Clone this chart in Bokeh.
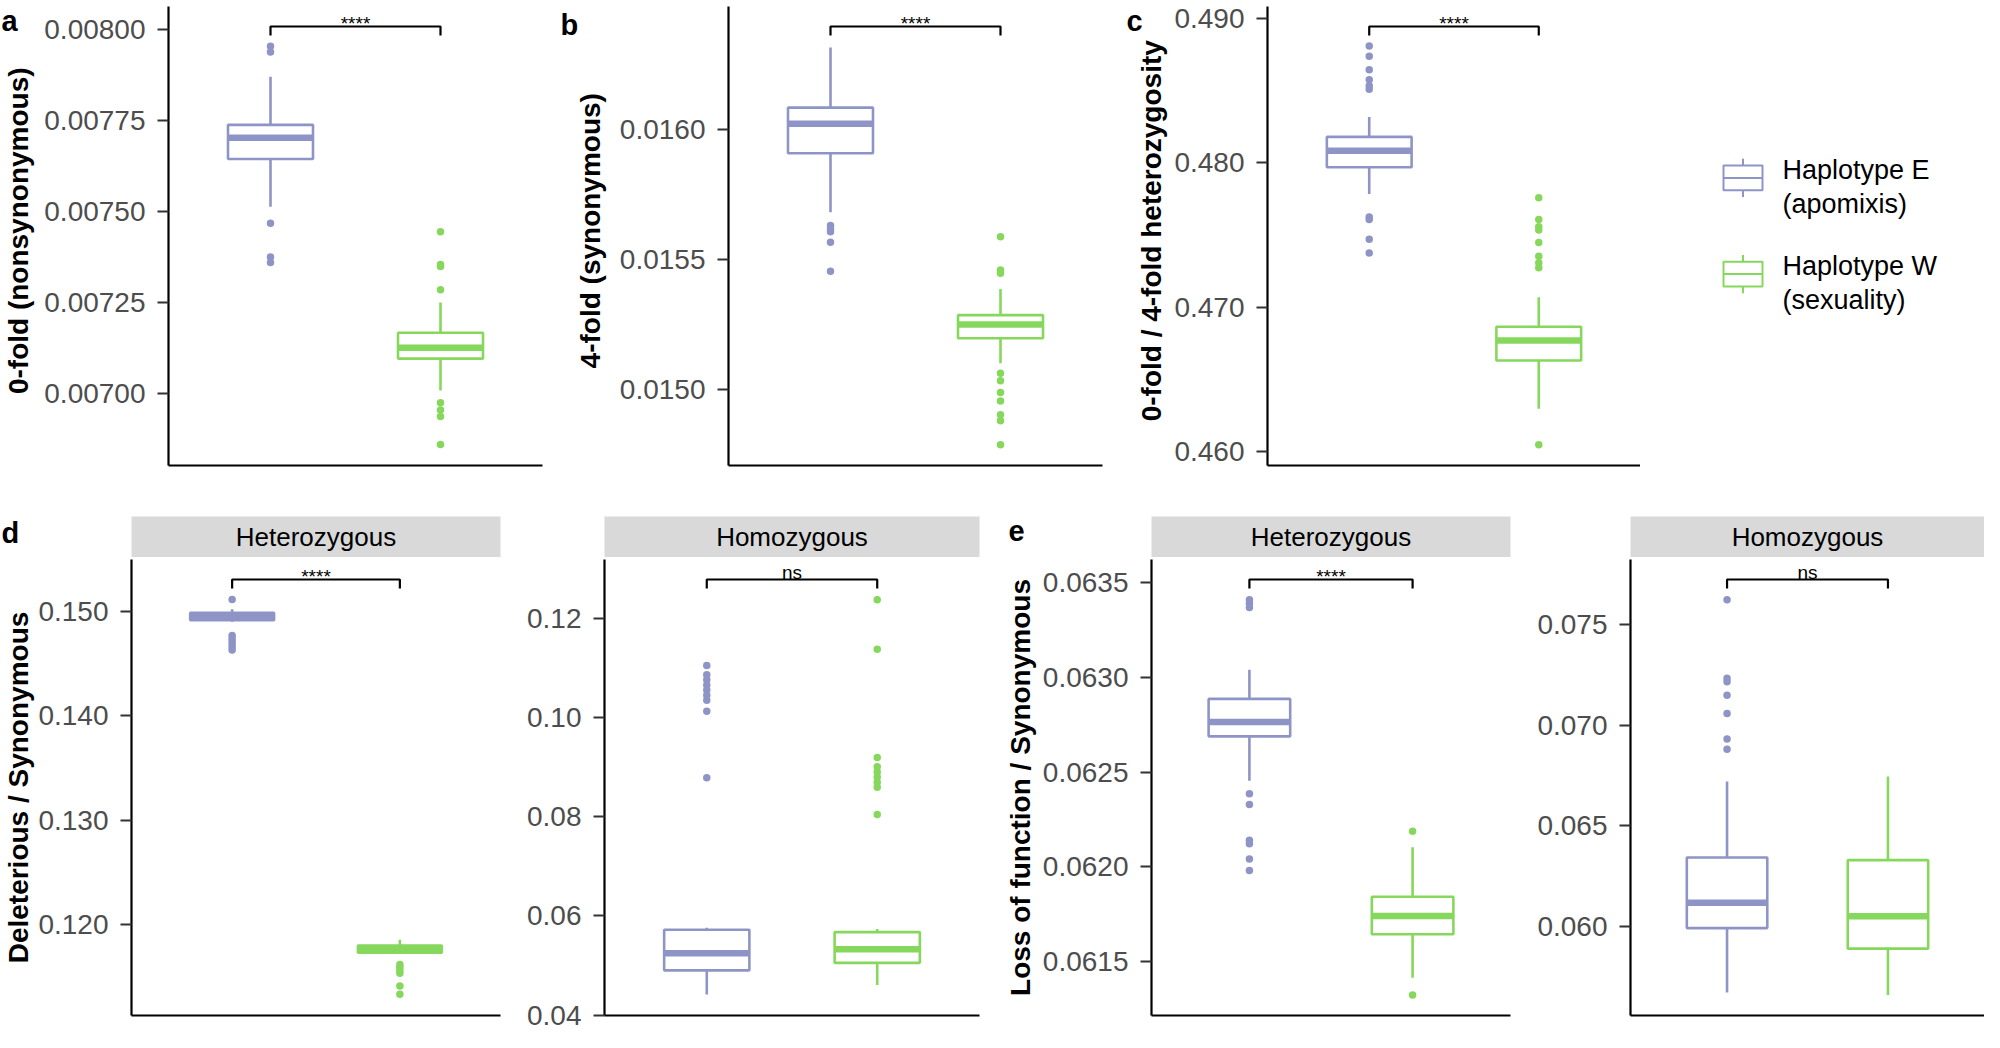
import math
from bokeh.plotting import figure
from bokeh.models import Range1d, FixedTicker, PrintfTickFormatter
from bokeh.layouts import row, column
from bokeh.core.properties import value
from bokeh.embed import file_html
from bokeh.resources import INLINE

FONT = "Liberation Sans"

groups = ["Haplotype E", "Haplotype W"]
group_notes = ["(apomixis)", "(sexuality)"]
colors = ["#8E95C6", "#86D85C"]
facets = ["Heterozygous", "Homozygous"]

# box stats per group: lower whisker, Q1, median, Q3, upper whisker
a_box = [[0.0075126, 0.0076439, 0.0077023, 0.0077374, 0.0078696],
         [0.0070090, 0.0070962, 0.0071259, 0.0071673, 0.0072500]]
a_out = [[0.0079532, 0.0079371, 0.0074676, 0.0073750, 0.0073597],
         [0.0074442, 0.0073543, 0.0073489, 0.0072851, 0.0069748, 0.0069550, 0.0069371, 0.0068606]]
a_ticks = [0.00700, 0.00725, 0.00750, 0.00775, 0.00800]

b_box = [[0.015681, 0.015907, 0.016020, 0.016082, 0.016313],
         [0.015101, 0.015197, 0.015250, 0.015286, 0.015386]]
b_out = [[0.015630, 0.015615, 0.015606, 0.015566, 0.015454],
         [0.015587, 0.015459, 0.015447, 0.015063, 0.015034, 0.014989, 0.014956, 0.014904, 0.014881, 0.014789]]
b_ticks = [0.0150, 0.0155, 0.0160]

c_box = [[0.47784, 0.47970, 0.48084, 0.48180, 0.48318],
         [0.46295, 0.46630, 0.46768, 0.46864, 0.47068]]
c_out = [[0.48811, 0.48739, 0.48645, 0.48577, 0.48534, 0.48511, 0.47625, 0.47607, 0.47470, 0.47375],
         [0.47759, 0.47607, 0.47557, 0.47534, 0.47448, 0.47352, 0.47307, 0.47273, 0.46045]]
c_ticks = [0.460, 0.470, 0.480, 0.490]

d_het_box = [[0.14897, 0.14912, 0.14948, 0.14984, 0.15018],
             [0.11723, 0.11732, 0.11769, 0.11800, 0.11856]]
d_het_out = [[0.15111, 0.14767, 0.14739, 0.14711, 0.14683, 0.14655, 0.14627],
             [0.11620, 0.11592, 0.11564, 0.11536, 0.11412, 0.11334]]
d_het_ticks = [0.120, 0.130, 0.140, 0.150]

d_hom_box = [[0.04413, 0.04902, 0.05246, 0.05721, 0.05762],
             [0.04606, 0.05053, 0.05329, 0.05673, 0.05735]]
d_hom_out = [[0.11057, 0.10871, 0.10768, 0.10664, 0.10561, 0.10458, 0.10355, 0.10134, 0.08792],
             [0.12386, 0.11387, 0.09198, 0.09012, 0.08909, 0.08806, 0.08702, 0.08599, 0.08048]]
d_hom_ticks = [0.04, 0.06, 0.08, 0.10, 0.12]

e_het_box = [[0.062455, 0.062689, 0.062765, 0.062887, 0.063041],
             [0.061414, 0.061644, 0.061741, 0.061842, 0.062104]]
e_het_out = [[0.06341, 0.06339, 0.06337, 0.062386, 0.062329, 0.062140, 0.062122, 0.062041, 0.061981],
             [0.062188, 0.061323]]
e_het_ticks = [0.0615, 0.0620, 0.0625, 0.0630, 0.0635]

e_hom_box = [[0.05670, 0.05990, 0.06116, 0.06341, 0.06719],
             [0.05657, 0.05888, 0.06049, 0.06328, 0.06744]]
e_hom_out = [[0.07624, 0.07233, 0.07216, 0.07148, 0.07058, 0.06931, 0.06880],
             []]
e_hom_ticks = [0.060, 0.065, 0.070, 0.075]


def side(width, height, letter, letter_x, letter_base, title, title_x, title_y):
    # narrow strip holding the panel letter and the rotated y title (pixel coords, y from top)
    s = figure(width=width, height=height, x_range=Range1d(0, width), y_range=Range1d(0, height),
               x_axis_type=None, y_axis_type=None, toolbar_location=None, output_backend="svg",
               min_border=0)
    s.outline_line_color = None
    s.text(x=[letter_x], y=[height - letter_base], text=[letter], text_baseline="alphabetic",
           text_align="left", text_font=value(FONT), text_font_style="bold",
           text_font_size="29px", text_color="black")
    s.text(x=[title_x], y=[height - title_y], text=[title], angle=math.pi / 2,
           text_align="center", text_baseline="middle", text_font=value(FONT),
           text_font_style="bold", text_font_size="28px", text_color="black")
    return s


def boxplot(width, height, left, right, top, bottom, yr, ticks, fmt, box, out, sig):
    p = figure(width=width, height=height, x_range=Range1d(0.4, 2.6), y_range=Range1d(*yr),
               toolbar_location=None, output_backend="svg",
               min_border_left=left, min_border_right=right,
               min_border_top=top, min_border_bottom=bottom)
    p.outline_line_color = None
    p.grid.visible = False
    frame_h = height - top - bottom

    p.xaxis.ticker = FixedTicker(ticks=[])
    p.xaxis.major_tick_line_color = None
    p.xaxis.minor_tick_line_color = None
    p.xaxis.major_label_text_font_size = "0px"
    p.xaxis.major_label_standoff = 0
    p.xaxis.axis_line_width = 2.2
    p.xaxis.axis_line_color = "black"

    p.yaxis.ticker = FixedTicker(ticks=ticks)
    p.yaxis.formatter = PrintfTickFormatter(format=fmt)
    p.yaxis.minor_tick_line_color = None
    p.yaxis.major_tick_out = 11
    p.yaxis.major_tick_in = 0
    p.yaxis.major_tick_line_width = 2.2
    p.yaxis.major_tick_line_color = "#333333"
    p.yaxis.axis_line_width = 2.2
    p.yaxis.axis_line_color = "black"
    p.yaxis.major_label_standoff = 12
    p.yaxis.major_label_text_font = FONT
    p.yaxis.major_label_text_font_size = "28px"
    p.yaxis.major_label_text_color = "#4D4D4D"

    for i, (b, o, c) in enumerate(zip(box, out, colors)):
        x = i + 1
        lo, q1, med, q3, hi = b
        p.segment(x0=[x, x], y0=[q3, q1], x1=[x, x], y1=[hi, lo], line_color=c, line_width=2.6)
        p.quad(left=[x - 0.25], right=[x + 0.25], bottom=[q1], top=[q3],
               fill_color="white", line_color=c, line_width=2.6)
        p.segment(x0=[x - 0.25], x1=[x + 0.25], y0=[med], y1=[med], line_color=c, line_width=6.5)
        if o:
            p.scatter(x=[x] * len(o), y=o, size=7.5, color=c, line_width=0)

    # significance bracket between the two groups
    span = yr[1] - yr[0]
    y_bar = yr[1] - span * 20 / frame_h
    y_tip = yr[1] - span * 29 / frame_h
    y_txt = yr[1] - span * (17 if sig.startswith("*") else 13) / frame_h
    p.line(x=[1, 1, 2, 2], y=[y_tip, y_bar, y_bar, y_tip], line_color="black", line_width=2.2)
    p.text(x=[1.5], y=[y_txt], text=[sig], text_align="center", text_baseline="alphabetic",
           text_font=value(FONT), text_font_size="19px", text_color="black")
    return p


def strip(width, height, left, right, text):
    s = figure(width=width, height=height, x_range=Range1d(0, 1), y_range=Range1d(0, 1),
               toolbar_location=None, output_backend="svg", x_axis_type=None, y_axis_type=None,
               min_border_left=left, min_border_right=right,
               min_border_top=height - 41, min_border_bottom=0)
    s.background_fill_color = "#D9D9D9"
    s.outline_line_color = None
    s.text(x=[0.5], y=[0.5], text=[text], text_align="center", text_baseline="middle",
           text_font=value(FONT), text_font_size="26px", text_color="black")
    return s


# row 1
H1 = 482
sa = side(36, H1, "a", 1, 15, "0-fold (nonsynonymous)", 17.5, 235.5)
pa = boxplot(516, H1, 132, 10, 6, 17, (0.006803, 0.008062), a_ticks, "%.5f", a_box, a_out, "****")
sb = side(56, H1, "b", 8, 19, "4-fold (synonymous)", 37.5, 235.5)
pb = boxplot(504, H1, 120, 10, 6, 17, (0.014709, 0.016470), b_ticks, "%.4f", b_box, b_out, "****")
sc = side(57, H1, "c", 14, 15, "0-fold / 4-fold heterozygosity", 39, 235.5)
pc = boxplot(471, H1, 98, 0, 6, 17, (0.45902, 0.49084), c_ticks, "%.3f", c_box, c_out, "****")

lg = figure(width=344, height=H1, x_range=Range1d(0, 344), y_range=Range1d(H1, 0),
            x_axis_type=None, y_axis_type=None, toolbar_location=None, output_backend="svg",
            min_border=0)
lg.outline_line_color = None
for i, (g, n, c) in enumerate(zip(groups, group_notes, colors)):
    cy = 180 + 101 * i
    lg.segment(x0=[102.5, 102.5], x1=[102.5, 102.5], y0=[cy - 13, cy + 13], y1=[cy - 20, cy + 20],
               line_color=c, line_width=2)
    lg.quad(left=[83], right=[122], top=[cy - 13], bottom=[cy + 13], fill_color="white",
            line_color=c, line_width=2)
    lg.segment(x0=[83], x1=[122], y0=[cy], y1=[cy], line_color=c, line_width=2)
    lg.text(x=[142], y=[cy - 8], text=[g], text_baseline="alphabetic", text_font=value(FONT),
            text_font_size="27px", text_color="black")
    lg.text(x=[142], y=[cy + 27], text=[n], text_baseline="alphabetic", text_font=value(FONT),
            text_font_size="27px", text_color="black")

# row 2: strip on top of each facet, shared side strip for letter and y title
HS, HP = 75, 475
sd = side(35, HS + HP, "d", 1, 50, "Deleterious / Synonymous", 17.5, 305)
sd1 = strip(477, HS, 91, 12, facets[0])
pd1 = boxplot(477, HP, 91, 12, 2, 17, (0.11131, 0.15493), d_het_ticks, "%.3f",
              d_het_box, d_het_out, "****")
sd2 = strip(480, HS, 92, 13, facets[1])
pd2 = boxplot(480, HP, 92, 13, 2, 17, (0.0399, 0.13198), d_hom_ticks, "%.2f",
              d_hom_box, d_hom_out, "ns")
se = side(45, HS + HP, "e", 16, 48, "Loss of function / Synonymous", 27.5, 305)
se1 = strip(475, HS, 114, 2, facets[0])
pe1 = boxplot(475, HP, 114, 2, 2, 17, (0.061215, 0.063623), e_het_ticks, "%.4f",
              e_het_box, e_het_out, "****")
se2 = strip(472, HS, 118, 0, facets[1])
pe2 = boxplot(472, HP, 118, 0, 2, 17, (0.05555, 0.07824), e_hom_ticks, "%.3f",
              e_hom_box, e_hom_out, "ns")

layout = column(
    row(sa, pa, sb, pb, sc, pc, lg),
    row(sd, column(sd1, pd1), column(sd2, pd2), se, column(se1, pe1), column(se2, pe2)),
)

open("out.html", "w").write(file_html(layout, INLINE))
